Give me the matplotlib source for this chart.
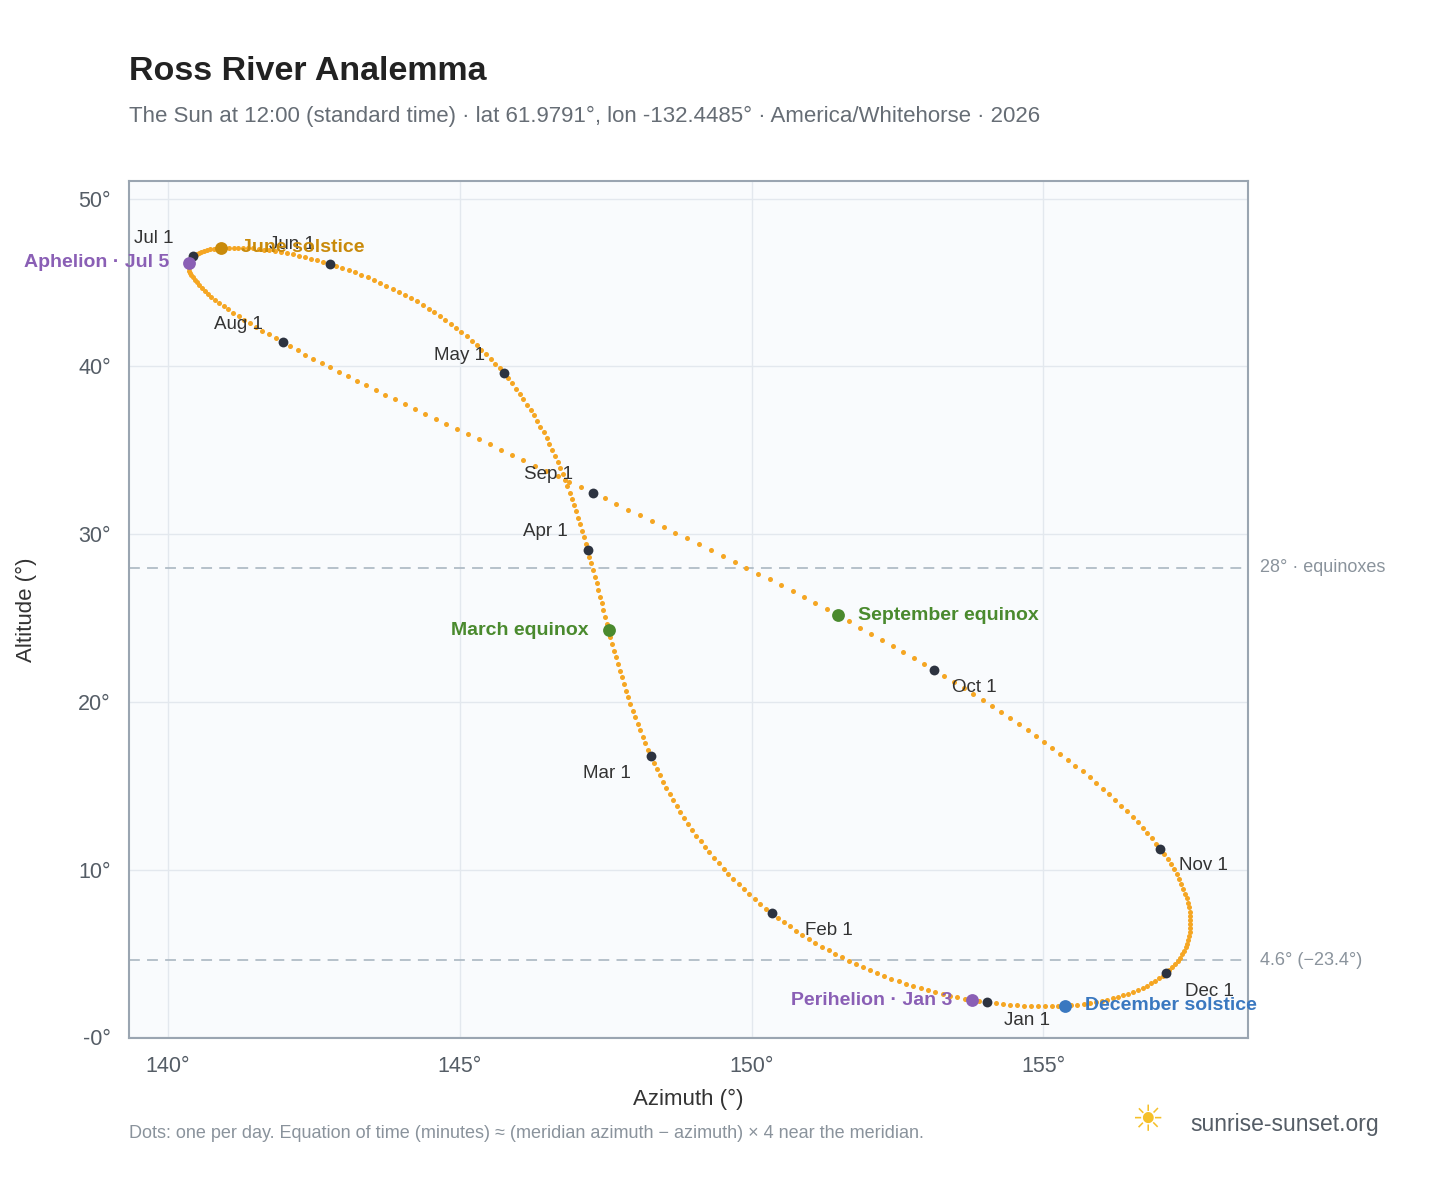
import numpy as np
import matplotlib
matplotlib.use("Agg")
import matplotlib.pyplot as plt
from datetime import date, timedelta

plt.rcParams['font.family'] = ['Liberation Sans', 'DejaVu Sans']

LAT, LON, TZ = 61.9791, -132.4485, -7.0
YEAR = 2026
month_labels = ["Jan 1","Feb 1","Mar 1","Apr 1","May 1","Jun 1","Jul 1","Aug 1","Sep 1","Oct 1","Nov 1","Dec 1"]
# label offsets in pixels (dx, dy)
month_offsets = [(40,-18),(57,-17),(-44,-17),(-42,19),(-44,18),(-38,19),(-39,18),(-44,18),(-44,18),(40,-18),(43,-17),(43,-18)]
events = [("March equinox", date(2026,3,20), "#4a8a2e", "left"),
          ("June solstice", date(2026,6,21), "#c98a0b", "right"),
          ("September equinox", date(2026,9,22), "#4a8a2e", "right"),
          ("December solstice", date(2026,12,21), "#3a78c0", "right"),
          ("Perihelion · Jan 3", date(2026,1,3), "#8a5fb5", "left"),
          ("Aphelion · Jul 5", date(2026,7,5), "#8a5fb5", "left")]

def sunpos(d):
    # NOAA solar position at 12:00 local standard time
    jd = d.toordinal() + 1721424.5 + (12 - TZ) / 24.0
    T = (jd - 2451545.0) / 36525.0
    L0 = (280.46646 + T*(36000.76983 + T*0.0003032)) % 360
    M = 357.52911 + T*(35999.05029 - 0.0001537*T)
    e = 0.016708634 - T*(0.000042037 + 0.0000001267*T)
    Mr = np.radians(M)
    C = np.sin(Mr)*(1.914602 - T*(0.004817+0.000014*T)) + np.sin(2*Mr)*(0.019993-0.000101*T) + np.sin(3*Mr)*0.000289
    lam = L0 + C - 0.00569 - 0.00478*np.sin(np.radians(125.04 - 1934.136*T))
    eps0 = 23 + (26 + (21.448 - T*(46.815 + T*(0.00059 - T*0.001813)))/60)/60
    eps = eps0 + 0.00256*np.cos(np.radians(125.04 - 1934.136*T))
    decl = np.degrees(np.arcsin(np.sin(np.radians(eps))*np.sin(np.radians(lam))))
    y = np.tan(np.radians(eps/2))**2
    L0r = np.radians(L0)
    eot = 4*np.degrees(y*np.sin(2*L0r) - 2*e*np.sin(Mr) + 4*e*y*np.sin(Mr)*np.cos(2*L0r)
                       - 0.5*y*y*np.sin(4*L0r) - 1.25*e*e*np.sin(2*Mr))
    tst = 12*60 + eot + 4*LON - 60*TZ
    ha = np.radians(tst/4 - 180)
    la, dr = np.radians(LAT), np.radians(decl)
    cz = np.sin(la)*np.sin(dr) + np.cos(la)*np.cos(dr)*np.cos(ha)
    zen = np.arccos(cz)
    alt = 90 - np.degrees(zen)
    az = np.degrees(np.arctan2(np.sin(ha), np.cos(ha)*np.sin(la) - np.tan(dr)*np.cos(la))) + 180
    return az, alt

days = [date(YEAR,1,1) + timedelta(i) for i in range(365)]
pts = np.array([sunpos(d) for d in days])

fig = plt.figure(figsize=(14.48, 11.88), dpi=100)
ax = fig.add_axes([0.089, 0.126, 0.773, 0.722])
ax.set_facecolor("#f9fbfd")
ax.set_xlim(139.33, 158.51)
ax.set_ylim(-0.06, 51.07)
ax.grid(color="#e3e8ee", lw=1)
ax.set_axisbelow(True)
for s in ax.spines.values():
    s.set_color("#9aa5b1"); s.set_linewidth(1.5)
ax.set_xticks([140,145,150,155])
ax.set_xticklabels(["140°","145°","150°","155°"])
ax.set_yticks([0,10,20,30,40,50])
ax.set_yticklabels(["-0°","10°","20°","30°","40°","50°"])
ax.tick_params(labelsize=15.5, colors="#555d66", length=0, pad=13)
ax.set_xlabel("Azimuth (°)", fontsize=16, color="#333", labelpad=8)
ax.set_ylabel("Altitude (°)", fontsize=16, color="#333", labelpad=30)

for yv, lab in [(28.0, "28° · equinoxes"), (4.6, "4.6° (−23.4°)")]:
    ax.axhline(yv, color="#b0bcc6", ls=(0,(6,4)), lw=1.3)
    ax.annotate(lab, (1, yv), xycoords=("axes fraction","data"), xytext=(12,0),
                textcoords="offset pixels", va="center", fontsize=13, color="#8a939c")

ax.scatter(pts[:,0], pts[:,1], s=13, color="#f5a623", zorder=3, lw=0)

for m in range(12):
    i = (date(YEAR, m+1, 1) - date(YEAR,1,1)).days
    x, y = pts[i]
    ax.scatter([x],[y], s=50, color="#2d3340", zorder=4, lw=0)
    ax.annotate(month_labels[m], (x,y), xytext=month_offsets[m], textcoords="offset pixels",
                ha="center", va="center", fontsize=13.5, color="#333", zorder=5)

for lab, d, col, side in events:
    i = (d - date(YEAR,1,1)).days
    x, y = pts[i]
    ax.scatter([x],[y], s=85, color=col, zorder=5, lw=0)
    dx = 20 if side == "right" else -20
    ax.annotate(lab, (x,y), xytext=(dx,0), textcoords="offset pixels",
                ha="left" if side=="right" else "right", va="center",
                fontsize=14, fontweight="bold", color=col, zorder=6, annotation_clip=False)

fig.text(129/1448, 1-72/1188, "Ross River Analemma", fontsize=24.5, fontweight="bold", color="#222", va="center")
fig.text(129/1448, 1-116/1188, "The Sun at 12:00 (standard time) · lat 61.9791°, lon -132.4485° · America/Whitehorse · 2026",
         fontsize=16, color="#666d75", va="center")
fig.text(129/1448, 1-1133/1188, "Dots: one per day. Equation of time (minutes) ≈ (meridian azimuth − azimuth) × 4 near the meridian.",
         fontsize=13, color="#8a939c", va="center")
fig.text(1190/1448, 1-1125/1188, "sunrise-sunset.org", fontsize=16.5, color="#555d66", va="center")
fig.text(1147/1448, 1-1122/1188, "☀", fontsize=26, color="#f5c02a", va="center", ha="center")

fig.savefig("out.png", dpi=100)
